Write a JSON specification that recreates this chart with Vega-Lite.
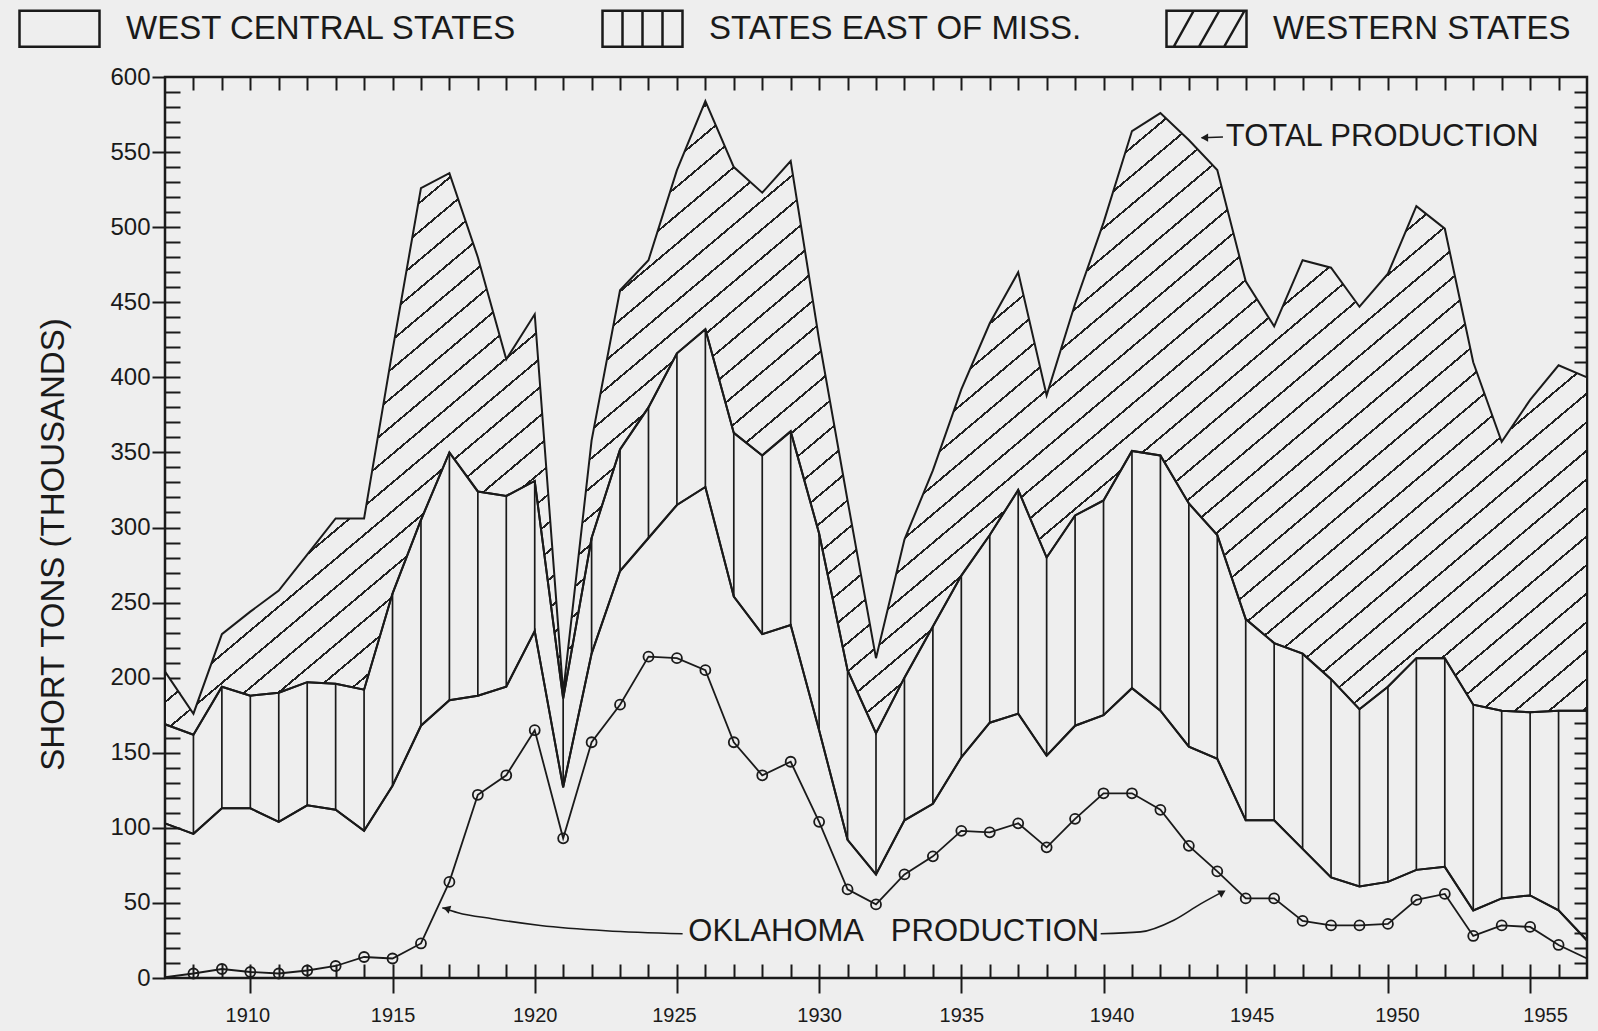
{
  "$schema": "https://vega.github.io/schema/vega-lite/v6.json",
  "width": 1422,
  "height": 901,
  "autosize": "none",
  "padding": {"left": 165, "top": 77, "right": 11, "bottom": 53},
  "background": "#eeeeee",
  "config": {
    "font": "Liberation Sans",
    "view": {"stroke": "#1a1a1a", "strokeWidth": 2.5},
    "axis": {"tickColor": "#1a1a1a", "tickWidth": 2, "labelColor": "#1a1a1a", "titleColor": "#1a1a1a", "grid": false, "domain": false, "zindex": 1, "labelFont": "Liberation Sans", "titleFont": "Liberation Sans"},
    "legend": {"orient": "none", "legendX": -147, "legendY": -90, "direction": "horizontal", "symbolSize": 6400, "symbolStrokeWidth": 2.5, "symbolStrokeColor": "#1a1a1a", "symbolFillColor": "transparent", "symbolOpacity": 1, "labelFont": "Liberation Sans", "labelFontSize": 33, "labelColor": "#1a1a1a", "labelOffset": 25, "labelLimit": 800, "columnPadding": 79}
  },
  "datasets": {
    "prod": [
      {"year": 1907, "central": 103, "eastern": 66, "western": 35, "ok": 0.5},
      {"year": 1908, "central": 96, "eastern": 66, "western": 14, "ok": 3},
      {"year": 1909, "central": 113, "eastern": 81, "western": 35, "ok": 6},
      {"year": 1910, "central": 113, "eastern": 75, "western": 56, "ok": 4},
      {"year": 1911, "central": 104, "eastern": 86, "western": 68, "ok": 3},
      {"year": 1912, "central": 115, "eastern": 82, "western": 85, "ok": 5},
      {"year": 1913, "central": 112, "eastern": 84, "western": 110, "ok": 8},
      {"year": 1914, "central": 98, "eastern": 94, "western": 114, "ok": 14},
      {"year": 1915, "central": 128, "eastern": 128, "western": 162, "ok": 13},
      {"year": 1916, "central": 168, "eastern": 137, "western": 221, "ok": 23},
      {"year": 1917, "central": 185, "eastern": 165, "western": 186, "ok": 64},
      {"year": 1918, "central": 188, "eastern": 136, "western": 156, "ok": 122},
      {"year": 1919, "central": 194, "eastern": 127, "western": 91, "ok": 135},
      {"year": 1920, "central": 231, "eastern": 100, "western": 111, "ok": 165},
      {"year": 1921, "central": 127, "eastern": 59, "western": 4, "ok": 93},
      {"year": 1922, "central": 216, "eastern": 77, "western": 65, "ok": 157},
      {"year": 1923, "central": 271, "eastern": 81, "western": 106, "ok": 182},
      {"year": 1924, "central": 293, "eastern": 87, "western": 98, "ok": 214},
      {"year": 1925, "central": 315, "eastern": 101, "western": 122, "ok": 213},
      {"year": 1926, "central": 327, "eastern": 105, "western": 152, "ok": 205},
      {"year": 1927, "central": 254, "eastern": 109, "western": 177, "ok": 157},
      {"year": 1928, "central": 229, "eastern": 119, "western": 175, "ok": 135},
      {"year": 1929, "central": 235, "eastern": 129, "western": 180, "ok": 144},
      {"year": 1930, "central": 165, "eastern": 131, "western": 129, "ok": 104},
      {"year": 1931, "central": 92, "eastern": 113, "western": 113, "ok": 59},
      {"year": 1932, "central": 69, "eastern": 94, "western": 50, "ok": 49},
      {"year": 1933, "central": 105, "eastern": 95, "western": 92, "ok": 69},
      {"year": 1934, "central": 116, "eastern": 118, "western": 104, "ok": 81},
      {"year": 1935, "central": 147, "eastern": 121, "western": 124, "ok": 98},
      {"year": 1936, "central": 170, "eastern": 125, "western": 141, "ok": 97},
      {"year": 1937, "central": 176, "eastern": 149, "western": 145, "ok": 103},
      {"year": 1938, "central": 148, "eastern": 132, "western": 108, "ok": 87},
      {"year": 1939, "central": 168, "eastern": 140, "western": 141, "ok": 106},
      {"year": 1940, "central": 175, "eastern": 143, "western": 185, "ok": 123},
      {"year": 1941, "central": 193, "eastern": 158, "western": 213, "ok": 123},
      {"year": 1942, "central": 178, "eastern": 170, "western": 228, "ok": 112},
      {"year": 1943, "central": 154, "eastern": 162, "western": 242, "ok": 88},
      {"year": 1944, "central": 146, "eastern": 149, "western": 243, "ok": 71},
      {"year": 1945, "central": 105, "eastern": 134, "western": 225, "ok": 53},
      {"year": 1946, "central": 105, "eastern": 118, "western": 211, "ok": 53},
      {"year": 1947, "central": 86, "eastern": 130, "western": 262, "ok": 38},
      {"year": 1948, "central": 67, "eastern": 132, "western": 274, "ok": 35},
      {"year": 1949, "central": 61, "eastern": 118, "western": 268, "ok": 35},
      {"year": 1950, "central": 64, "eastern": 130, "western": 275, "ok": 36},
      {"year": 1951, "central": 72, "eastern": 141, "western": 301, "ok": 52},
      {"year": 1952, "central": 74, "eastern": 139, "western": 286, "ok": 56},
      {"year": 1953, "central": 45, "eastern": 137, "western": 228, "ok": 28},
      {"year": 1954, "central": 53, "eastern": 125, "western": 179, "ok": 35},
      {"year": 1955, "central": 55, "eastern": 122, "western": 208, "ok": 34},
      {"year": 1956, "central": 45, "eastern": 133, "western": 230, "ok": 22},
      {"year": 1957, "central": 25, "eastern": 153, "western": 222, "ok": 13}
    ],
    "ann": [
      {"curve": "left", "year": 1916.75, "value": 46.8},
      {"curve": "left", "year": 1917.3, "value": 43.5},
      {"curve": "left", "year": 1918.5, "value": 39.5},
      {"curve": "left", "year": 1920.2, "value": 35},
      {"curve": "left", "year": 1922.5, "value": 31.5},
      {"curve": "left", "year": 1925.2, "value": 29.5},
      {"curve": "right", "year": 1939.9, "value": 29.5},
      {"curve": "right", "year": 1941.3, "value": 30.7},
      {"curve": "right", "year": 1942.47, "value": 38.5},
      {"curve": "right", "year": 1943.4, "value": 49.2},
      {"curve": "right", "year": 1944.2, "value": 57.5},
      {"curve": "total", "year": 1943.45, "value": 559.5},
      {"curve": "total", "year": 1944.2, "value": 560}
    ],
    "arrows": [
      {"name": "left", "year": 1916.9, "value": 46.2},
      {"name": "right", "year": 1944.18, "value": 57},
      {"name": "total", "year": 1943.55, "value": 559.6}
    ],
    "labels": [
      {"text": "TOTAL PRODUCTION", "year": 1944.3, "value": 560.3},
      {"text": "OKLAHOMA", "year": 1925.4, "value": 30.9},
      {"text": "PRODUCTION", "year": 1939.85, "value": 30.9}
    ]
  },
  "layer": [
    {
      "data": {"name": "prod"},
      "transform": [
        {"fold": ["central", "eastern", "western"], "as": ["region", "amount"]},
        {"stack": "amount", "groupby": ["year"], "sort": [{"field": "region", "order": "ascending"}], "as": ["lo", "hi"]},
        {"filter": "datum.region === 'western'"}
      ],
      "mark": {"type": "area", "stroke": "#1a1a1a", "strokeWidth": 2, "strokeMiterLimit": 4,
        "fill": {"gradient": "linear", "x1": 0, "y1": 0, "x2": 1.1944, "y2": 0.6337, "stops": [
{"offset":0,"color":"#222"},{"offset":0.0014,"color":"#222"},{"offset":0.0014,"color":"#eee"},{"offset":0.015625,"color":"#eee"},
{"offset":0.015625,"color":"#222"},{"offset":0.017025,"color":"#222"},{"offset":0.017025,"color":"#eee"},{"offset":0.03125,"color":"#eee"},
{"offset":0.03125,"color":"#222"},{"offset":0.03265,"color":"#222"},{"offset":0.03265,"color":"#eee"},{"offset":0.046875,"color":"#eee"},
{"offset":0.046875,"color":"#222"},{"offset":0.048275,"color":"#222"},{"offset":0.048275,"color":"#eee"},{"offset":0.0625,"color":"#eee"},
{"offset":0.0625,"color":"#222"},{"offset":0.0639,"color":"#222"},{"offset":0.0639,"color":"#eee"},{"offset":0.078125,"color":"#eee"},
{"offset":0.078125,"color":"#222"},{"offset":0.079525,"color":"#222"},{"offset":0.079525,"color":"#eee"},{"offset":0.09375,"color":"#eee"},
{"offset":0.09375,"color":"#222"},{"offset":0.09515,"color":"#222"},{"offset":0.09515,"color":"#eee"},{"offset":0.109375,"color":"#eee"},
{"offset":0.109375,"color":"#222"},{"offset":0.110775,"color":"#222"},{"offset":0.110775,"color":"#eee"},{"offset":0.125,"color":"#eee"},
{"offset":0.125,"color":"#222"},{"offset":0.1264,"color":"#222"},{"offset":0.1264,"color":"#eee"},{"offset":0.140625,"color":"#eee"},
{"offset":0.140625,"color":"#222"},{"offset":0.142025,"color":"#222"},{"offset":0.142025,"color":"#eee"},{"offset":0.15625,"color":"#eee"},
{"offset":0.15625,"color":"#222"},{"offset":0.15765,"color":"#222"},{"offset":0.15765,"color":"#eee"},{"offset":0.171875,"color":"#eee"},
{"offset":0.171875,"color":"#222"},{"offset":0.173275,"color":"#222"},{"offset":0.173275,"color":"#eee"},{"offset":0.1875,"color":"#eee"},
{"offset":0.1875,"color":"#222"},{"offset":0.1889,"color":"#222"},{"offset":0.1889,"color":"#eee"},{"offset":0.203125,"color":"#eee"},
{"offset":0.203125,"color":"#222"},{"offset":0.204525,"color":"#222"},{"offset":0.204525,"color":"#eee"},{"offset":0.21875,"color":"#eee"},
{"offset":0.21875,"color":"#222"},{"offset":0.22015,"color":"#222"},{"offset":0.22015,"color":"#eee"},{"offset":0.234375,"color":"#eee"},
{"offset":0.234375,"color":"#222"},{"offset":0.235775,"color":"#222"},{"offset":0.235775,"color":"#eee"},{"offset":0.25,"color":"#eee"},
{"offset":0.25,"color":"#222"},{"offset":0.2514,"color":"#222"},{"offset":0.2514,"color":"#eee"},{"offset":0.265625,"color":"#eee"},
{"offset":0.265625,"color":"#222"},{"offset":0.267025,"color":"#222"},{"offset":0.267025,"color":"#eee"},{"offset":0.28125,"color":"#eee"},
{"offset":0.28125,"color":"#222"},{"offset":0.28265,"color":"#222"},{"offset":0.28265,"color":"#eee"},{"offset":0.296875,"color":"#eee"},
{"offset":0.296875,"color":"#222"},{"offset":0.298275,"color":"#222"},{"offset":0.298275,"color":"#eee"},{"offset":0.3125,"color":"#eee"},
{"offset":0.3125,"color":"#222"},{"offset":0.3139,"color":"#222"},{"offset":0.3139,"color":"#eee"},{"offset":0.328125,"color":"#eee"},
{"offset":0.328125,"color":"#222"},{"offset":0.329525,"color":"#222"},{"offset":0.329525,"color":"#eee"},{"offset":0.34375,"color":"#eee"},
{"offset":0.34375,"color":"#222"},{"offset":0.34515,"color":"#222"},{"offset":0.34515,"color":"#eee"},{"offset":0.359375,"color":"#eee"},
{"offset":0.359375,"color":"#222"},{"offset":0.360775,"color":"#222"},{"offset":0.360775,"color":"#eee"},{"offset":0.375,"color":"#eee"},
{"offset":0.375,"color":"#222"},{"offset":0.3764,"color":"#222"},{"offset":0.3764,"color":"#eee"},{"offset":0.390625,"color":"#eee"},
{"offset":0.390625,"color":"#222"},{"offset":0.392025,"color":"#222"},{"offset":0.392025,"color":"#eee"},{"offset":0.40625,"color":"#eee"},
{"offset":0.40625,"color":"#222"},{"offset":0.40765,"color":"#222"},{"offset":0.40765,"color":"#eee"},{"offset":0.421875,"color":"#eee"},
{"offset":0.421875,"color":"#222"},{"offset":0.423275,"color":"#222"},{"offset":0.423275,"color":"#eee"},{"offset":0.4375,"color":"#eee"},
{"offset":0.4375,"color":"#222"},{"offset":0.4389,"color":"#222"},{"offset":0.4389,"color":"#eee"},{"offset":0.453125,"color":"#eee"},
{"offset":0.453125,"color":"#222"},{"offset":0.454525,"color":"#222"},{"offset":0.454525,"color":"#eee"},{"offset":0.46875,"color":"#eee"},
{"offset":0.46875,"color":"#222"},{"offset":0.47015,"color":"#222"},{"offset":0.47015,"color":"#eee"},{"offset":0.484375,"color":"#eee"},
{"offset":0.484375,"color":"#222"},{"offset":0.485775,"color":"#222"},{"offset":0.485775,"color":"#eee"},{"offset":0.5,"color":"#eee"},
{"offset":0.5,"color":"#222"},{"offset":0.5014,"color":"#222"},{"offset":0.5014,"color":"#eee"},{"offset":0.515625,"color":"#eee"},
{"offset":0.515625,"color":"#222"},{"offset":0.517025,"color":"#222"},{"offset":0.517025,"color":"#eee"},{"offset":0.53125,"color":"#eee"},
{"offset":0.53125,"color":"#222"},{"offset":0.53265,"color":"#222"},{"offset":0.53265,"color":"#eee"},{"offset":0.546875,"color":"#eee"},
{"offset":0.546875,"color":"#222"},{"offset":0.548275,"color":"#222"},{"offset":0.548275,"color":"#eee"},{"offset":0.5625,"color":"#eee"},
{"offset":0.5625,"color":"#222"},{"offset":0.5639,"color":"#222"},{"offset":0.5639,"color":"#eee"},{"offset":0.578125,"color":"#eee"},
{"offset":0.578125,"color":"#222"},{"offset":0.579525,"color":"#222"},{"offset":0.579525,"color":"#eee"},{"offset":0.59375,"color":"#eee"},
{"offset":0.59375,"color":"#222"},{"offset":0.59515,"color":"#222"},{"offset":0.59515,"color":"#eee"},{"offset":0.609375,"color":"#eee"},
{"offset":0.609375,"color":"#222"},{"offset":0.610775,"color":"#222"},{"offset":0.610775,"color":"#eee"},{"offset":0.625,"color":"#eee"},
{"offset":0.625,"color":"#222"},{"offset":0.6264,"color":"#222"},{"offset":0.6264,"color":"#eee"},{"offset":0.640625,"color":"#eee"},
{"offset":0.640625,"color":"#222"},{"offset":0.642025,"color":"#222"},{"offset":0.642025,"color":"#eee"},{"offset":0.65625,"color":"#eee"},
{"offset":0.65625,"color":"#222"},{"offset":0.65765,"color":"#222"},{"offset":0.65765,"color":"#eee"},{"offset":0.671875,"color":"#eee"},
{"offset":0.671875,"color":"#222"},{"offset":0.673275,"color":"#222"},{"offset":0.673275,"color":"#eee"},{"offset":0.6875,"color":"#eee"},
{"offset":0.6875,"color":"#222"},{"offset":0.6889,"color":"#222"},{"offset":0.6889,"color":"#eee"},{"offset":0.703125,"color":"#eee"},
{"offset":0.703125,"color":"#222"},{"offset":0.704525,"color":"#222"},{"offset":0.704525,"color":"#eee"},{"offset":0.71875,"color":"#eee"},
{"offset":0.71875,"color":"#222"},{"offset":0.72015,"color":"#222"},{"offset":0.72015,"color":"#eee"},{"offset":0.734375,"color":"#eee"},
{"offset":0.734375,"color":"#222"},{"offset":0.735775,"color":"#222"},{"offset":0.735775,"color":"#eee"},{"offset":0.75,"color":"#eee"},
{"offset":0.75,"color":"#222"},{"offset":0.7514,"color":"#222"},{"offset":0.7514,"color":"#eee"},{"offset":0.765625,"color":"#eee"},
{"offset":0.765625,"color":"#222"},{"offset":0.767025,"color":"#222"},{"offset":0.767025,"color":"#eee"},{"offset":0.78125,"color":"#eee"},
{"offset":0.78125,"color":"#222"},{"offset":0.78265,"color":"#222"},{"offset":0.78265,"color":"#eee"},{"offset":0.796875,"color":"#eee"},
{"offset":0.796875,"color":"#222"},{"offset":0.798275,"color":"#222"},{"offset":0.798275,"color":"#eee"},{"offset":0.8125,"color":"#eee"},
{"offset":0.8125,"color":"#222"},{"offset":0.8139,"color":"#222"},{"offset":0.8139,"color":"#eee"},{"offset":0.828125,"color":"#eee"},
{"offset":0.828125,"color":"#222"},{"offset":0.829525,"color":"#222"},{"offset":0.829525,"color":"#eee"},{"offset":0.84375,"color":"#eee"},
{"offset":0.84375,"color":"#222"},{"offset":0.84515,"color":"#222"},{"offset":0.84515,"color":"#eee"},{"offset":0.859375,"color":"#eee"},
{"offset":0.859375,"color":"#222"},{"offset":0.860775,"color":"#222"},{"offset":0.860775,"color":"#eee"},{"offset":0.875,"color":"#eee"},
{"offset":0.875,"color":"#222"},{"offset":0.8764,"color":"#222"},{"offset":0.8764,"color":"#eee"},{"offset":0.890625,"color":"#eee"},
{"offset":0.890625,"color":"#222"},{"offset":0.892025,"color":"#222"},{"offset":0.892025,"color":"#eee"},{"offset":0.90625,"color":"#eee"},
{"offset":0.90625,"color":"#222"},{"offset":0.90765,"color":"#222"},{"offset":0.90765,"color":"#eee"},{"offset":0.921875,"color":"#eee"},
{"offset":0.921875,"color":"#222"},{"offset":0.923275,"color":"#222"},{"offset":0.923275,"color":"#eee"},{"offset":0.9375,"color":"#eee"},
{"offset":0.9375,"color":"#222"},{"offset":0.9389,"color":"#222"},{"offset":0.9389,"color":"#eee"},{"offset":0.953125,"color":"#eee"},
{"offset":0.953125,"color":"#222"},{"offset":0.954525,"color":"#222"},{"offset":0.954525,"color":"#eee"},{"offset":0.96875,"color":"#eee"},
{"offset":0.96875,"color":"#222"},{"offset":0.97015,"color":"#222"},{"offset":0.97015,"color":"#eee"},{"offset":0.984375,"color":"#eee"},
{"offset":0.984375,"color":"#222"},{"offset":0.985775,"color":"#222"},{"offset":0.985775,"color":"#eee"},{"offset":1,"color":"#eee"}
        ]}},
      "encoding": {
        "x": {"field": "year", "type": "quantitative", "scale": {"domain": [1907, 1957], "nice": false, "zero": false},
          "axis": {"orient": "top", "values": [1908,1909,1910,1911,1912,1913,1914,1915,1916,1917,1918,1919,1920,1921,1922,1923,1924,1925,1926,1927,1928,1929,1930,1931,1932,1933,1934,1935,1936,1937,1938,1939,1940,1941,1942,1943,1944,1945,1946,1947,1948,1949,1950,1951,1952,1953,1954,1955,1956], "tickSize": -13, "labels": false, "title": null}},
        "y": {"field": "hi", "type": "quantitative", "scale": {"domain": [0, 600], "nice": false},
          "axis": {"orient": "right", "values": [10,20,30,40,50,60,70,80,90,100,110,120,130,140,150,160,170,180,190,200,210,220,230,240,250,260,270,280,290,300,310,320,330,340,350,360,370,380,390,400,410,420,430,440,450,460,470,480,490,500,510,520,530,540,550,560,570,580,590], "tickSize": -13, "labels": false, "title": null}},
        "y2": {"field": "lo"}
      }
    },
    {
      "data": {"name": "prod"},
      "transform": [
        {"fold": ["central", "eastern", "western"], "as": ["region", "amount"]},
        {"stack": "amount", "groupby": ["year"], "sort": [{"field": "region", "order": "ascending"}], "as": ["lo", "hi"]},
        {"filter": "datum.region === 'eastern'"}
      ],
      "mark": {"type": "area", "fillOpacity": 0, "stroke": "#1a1a1a", "strokeWidth": 2, "strokeMiterLimit": 4},
      "encoding": {
        "x": {"field": "year", "type": "quantitative",
          "axis": {"orient": "bottom", "values": [1908,1909,1910,1911,1912,1913,1914,1915,1916,1917,1918,1919,1920,1921,1922,1923,1924,1925,1926,1927,1928,1929,1930,1931,1932,1933,1934,1935,1936,1937,1938,1939,1940,1941,1942,1943,1944,1945,1946,1947,1948,1949,1950,1951,1952,1953,1954,1955,1956], "tickSize": -14, "labels": false, "title": null}},
        "y": {"field": "hi", "type": "quantitative",
          "axis": {"orient": "left", "values": [10,20,30,40,50,60,70,80,90,100,110,120,130,140,150,160,170,180,190,200,210,220,230,240,250,260,270,280,290,300,310,320,330,340,350,360,370,380,390,400,410,420,430,440,450,460,470,480,490,500,510,520,530,540,550,560,570,580,590], "tickSize": -15, "labels": false, "title": null}},
        "y2": {"field": "lo"}
      }
    },
    {
      "data": {"name": "prod"},
      "transform": [
        {"fold": ["central", "eastern", "western"], "as": ["region", "amount"]},
        {"stack": "amount", "groupby": ["year"], "sort": [{"field": "region", "order": "ascending"}], "as": ["lo", "hi"]},
        {"filter": "datum.region === 'eastern'"}
      ],
      "mark": {"type": "rule", "stroke": "#1a1a1a", "strokeWidth": 1.7},
      "encoding": {
        "x": {"field": "year", "type": "quantitative", "axis": null},
        "y": {"field": "lo", "type": "quantitative", "axis": null},
        "y2": {"field": "hi"}
      }
    },
    {
      "data": {"name": "prod"},
      "transform": [
        {"fold": ["central", "eastern", "western"], "as": ["region", "amount"]},
        {"stack": "amount", "groupby": ["year"], "sort": [{"field": "region", "order": "ascending"}], "as": ["lo", "hi"]},
        {"filter": "datum.region === 'central'"}
      ],
      "mark": {"type": "area", "fillOpacity": 0, "stroke": "#1a1a1a", "strokeWidth": 2, "strokeMiterLimit": 4},
      "encoding": {
        "x": {"field": "year", "type": "quantitative",
          "axis": {"orient": "bottom", "values": [1910,1915,1920,1925,1930,1935,1940,1945,1950,1955], "format": "d", "tickSize": 15, "labelPadding": 12, "labelFontSize": 20, "title": null,
            "labelOffset": {"condition": [{"test": "datum.value === 1955", "value": 15}, {"test": "datum.value === 1950", "value": 9}, {"test": "datum.value === 1945", "value": 6}, {"test": "datum.value === 1940", "value": 8}, {"test": "datum.value === 1925", "value": -3}, {"test": "datum.value === 1910", "value": -3}], "value": 0}}},
        "y": {"field": "hi", "type": "quantitative",
          "axis": {"orient": "left", "values": [0,50,100,150,200,250,300,350,400,450,500,550,600], "tickSize": 13, "labelPadding": 2, "labelFontSize": 24, "title": "SHORT TONS (THOUSANDS)", "titleFontSize": 33, "titleFontWeight": "normal", "titlePadding": 39, "titleY": 467}},
        "y2": {"field": "lo"}
      }
    },
    {
      "data": {"name": "prod"},
      "mark": {"type": "line", "stroke": "#1a1a1a", "strokeWidth": 1.8},
      "encoding": {
        "x": {"field": "year", "type": "quantitative", "axis": null},
        "y": {"field": "ok", "type": "quantitative", "axis": null}
      }
    },
    {
      "data": {"name": "prod"},
      "transform": [{"filter": "datum.year >= 1908 && datum.year <= 1956"}],
      "mark": {"type": "point", "shape": "circle", "size": 100, "filled": false, "stroke": "#1a1a1a", "strokeWidth": 1.8, "opacity": 1},
      "encoding": {
        "x": {"field": "year", "type": "quantitative", "axis": null},
        "y": {"field": "ok", "type": "quantitative", "axis": null}
      }
    },
    {
      "data": {"name": "ann"},
      "mark": {"type": "line", "stroke": "#1a1a1a", "strokeWidth": 1.6, "interpolate": "monotone"},
      "encoding": {
        "x": {"field": "year", "type": "quantitative", "axis": null},
        "y": {"field": "value", "type": "quantitative", "axis": null},
        "detail": {"field": "curve", "type": "nominal"}
      }
    },
    {
      "data": {"name": "arrows"},
      "transform": [{"filter": "datum.name === 'left'"}],
      "mark": {"type": "point", "shape": "triangle-left", "size": 70, "filled": true, "fill": "#1a1a1a", "angle": 18, "opacity": 1},
      "encoding": {
        "x": {"field": "year", "type": "quantitative", "axis": null},
        "y": {"field": "value", "type": "quantitative", "axis": null}
      }
    },
    {
      "data": {"name": "arrows"},
      "transform": [{"filter": "datum.name === 'right'"}],
      "mark": {"type": "point", "shape": "triangle-right", "size": 70, "filled": true, "fill": "#1a1a1a", "angle": 330, "opacity": 1},
      "encoding": {
        "x": {"field": "year", "type": "quantitative", "axis": null},
        "y": {"field": "value", "type": "quantitative", "axis": null}
      }
    },
    {
      "data": {"name": "arrows"},
      "transform": [{"filter": "datum.name === 'total'"}],
      "mark": {"type": "point", "shape": "triangle-left", "size": 70, "filled": true, "fill": "#1a1a1a", "opacity": 1},
      "encoding": {
        "x": {"field": "year", "type": "quantitative", "axis": null},
        "y": {"field": "value", "type": "quantitative", "axis": null}
      }
    },
    {
      "data": {"name": "labels"},
      "transform": [{"filter": "datum.text !== 'PRODUCTION'"}],
      "mark": {"type": "text", "align": "left", "baseline": "middle", "font": "Liberation Sans", "fontSize": 31, "fill": "#1a1a1a"},
      "encoding": {
        "x": {"field": "year", "type": "quantitative", "axis": null},
        "y": {"field": "value", "type": "quantitative", "axis": null},
        "text": {"field": "text"}
      }
    },
    {
      "data": {"name": "labels"},
      "transform": [{"filter": "datum.text === 'PRODUCTION'"}],
      "mark": {"type": "text", "align": "right", "baseline": "middle", "font": "Liberation Sans", "fontSize": 31, "fill": "#1a1a1a"},
      "encoding": {
        "x": {"field": "year", "type": "quantitative", "axis": null},
        "y": {"field": "value", "type": "quantitative", "axis": null},
        "text": {"field": "text"}
      }
    },
    {
      "data": {"values": []},
      "mark": {"type": "point", "filled": false, "color": "#1a1a1a"},
      "encoding": {
        "x": {"field": "year", "type": "quantitative", "axis": null},
        "y": {"field": "value", "type": "quantitative", "axis": null},
        "shape": {"field": "region", "type": "nominal",
          "scale": {"domain": ["WEST CENTRAL STATES", "STATES EAST OF MISS.", "WESTERN STATES"],
            "range": ["M-1,-0.45H1V0.45H-1Z", "M-1,-0.45H1V0.45H-1Z M-0.5,-0.45V0.45 M0,-0.45V0.45 M0.5,-0.45V0.45", "M-1,-0.45H1V0.45H-1Z M-0.82,0.45L-0.32,-0.45 M-0.19,0.45L0.32,-0.45 M0.44,0.45L0.95,-0.45"]},
          "legend": {"title": null}}
      }
    }
  ],
  "resolve": {"axis": {"x": "independent", "y": "independent"}}
}
